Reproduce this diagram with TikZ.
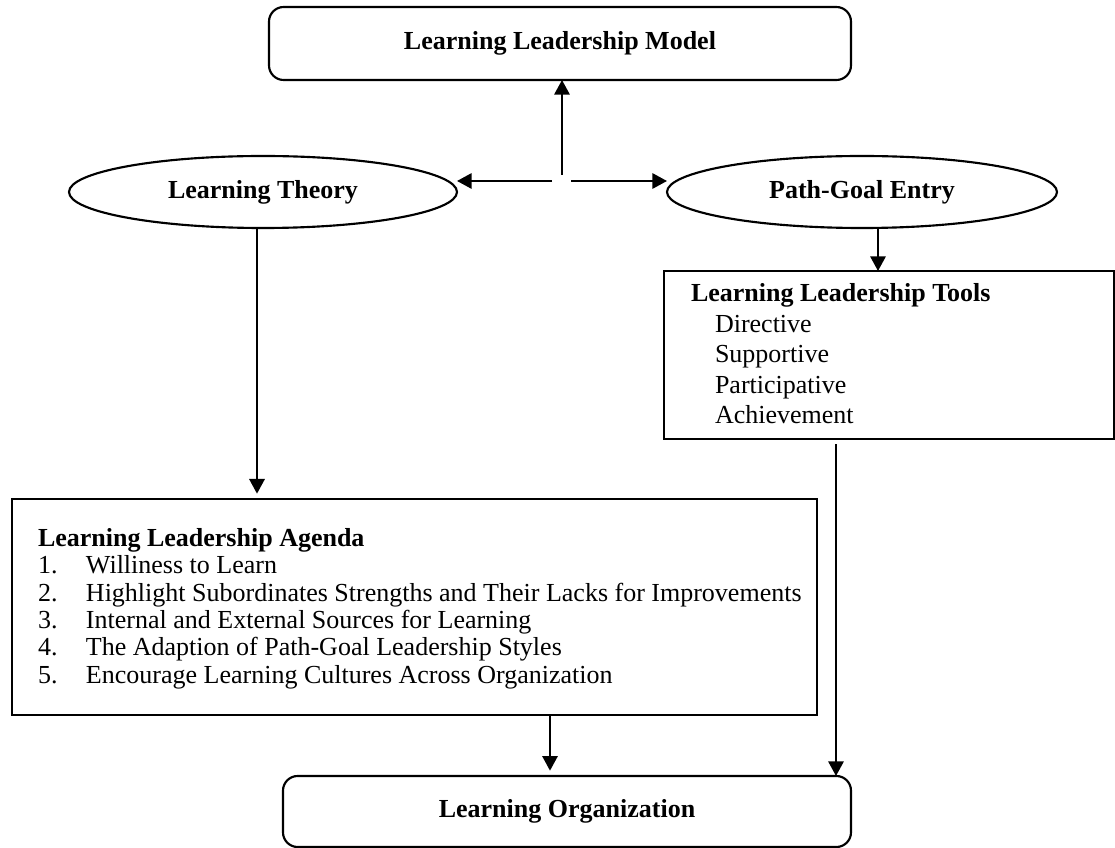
\documentclass[tikz,border=0pt]{standalone}
\usepackage{fontspec}
\setmainfont{Liberation Serif}
\usetikzlibrary{arrows.meta,shapes.geometric,calc}
\begin{document}
\begin{tikzpicture}[x=0.75pt,y=-0.75pt,
  line width=1.6pt,
  every node/.style={outer sep=0pt},
  txt/.style={font=\fontsize{19.5}{22.9}\selectfont, inner sep=0pt},
  rbox/.style={draw, rounded corners=11pt, font=\fontsize{19.5}{22.9}\selectfont\bfseries, inner sep=0pt},
  oval/.style={draw, ellipse, font=\fontsize{19.5}{22.9}\selectfont\bfseries, inner sep=0pt, minimum width=291pt, minimum height=54pt},
  sbox/.style={draw, rectangle, inner sep=0pt},
  arr/.style={-{Triangle[length=11pt,width=11.5pt]}}]
\useasboundingbox (0,0) rectangle (1115,848);

\node[rbox, minimum width=436.5pt, minimum height=54.75pt] (model) at (560,43.5) {Learning Leadership Model};
\node[oval] (theory) at (263,192) {Learning Theory};
\node[oval, minimum width=292.5pt] (pathgoal) at (862,192) {Path-Goal Entry};
\node[sbox, minimum width=337.5pt, minimum height=126pt] (tools) at (889,355) {};
\node[txt, anchor=base west, align=left] (toolstxt) at (691,424)
  {\textbf{Learning Leadership Tools}\\
   \hspace*{18pt}Directive\\
   \hspace*{18pt}Supportive\\
   \hspace*{18pt}Participative\\
   \hspace*{18pt}Achievement};
\node[sbox, minimum width=603.75pt, minimum height=162pt] (agenda) at (414.5,607) {};
\node[txt, font=\fontsize{19.5}{20.5}\selectfont, anchor=base west, align=left] (agendatxt) at (38,683)
  {\textbf{Learning Leadership Agenda}\\
   \makebox[36pt][l]{1.}Williness to Learn\\
   \makebox[36pt][l]{2.}Highlight Subordinates Strengths and Their Lacks for Improvements\\
   \makebox[36pt][l]{3.}Internal and External Sources for Learning\\
   \makebox[36pt][l]{4.}The Adaption of Path-Goal Leadership Styles\\
   \makebox[36pt][l]{5.}Encourage Learning Cultures Across Organization};
\node[rbox, minimum width=426pt, minimum height=53.25pt] (lo) at (567,811.5) {Learning Organization};

\coordinate (j) at (562,181);
\draw[arr] ($(j)+(0,-6)$) -- (model.south -| j);
\draw[arr] ($(j)+(-10,0)$) -- (theory.east |- j);
\draw[arr] ($(j)+(9,0)$) -- (pathgoal.west |- j);

\coordinate (pgx) at (878,0);
\draw[arr] (pgx |- pathgoal.south) -- (pgx |- tools.north);

\coordinate (ltx) at (257,0);
\draw[arr, shorten >=4pt] (ltx |- theory.south) -- (ltx |- agenda.north);

\coordinate (alx) at (550,0);
\draw[arr, shorten >=4pt] (alx |- agenda.south) -- (alx |- lo.north);

\coordinate (tlx) at (836,0);
\draw[arr, shorten <=4pt] (tlx |- tools.south) -- (tlx |- lo.north);
\end{tikzpicture}
\end{document}
